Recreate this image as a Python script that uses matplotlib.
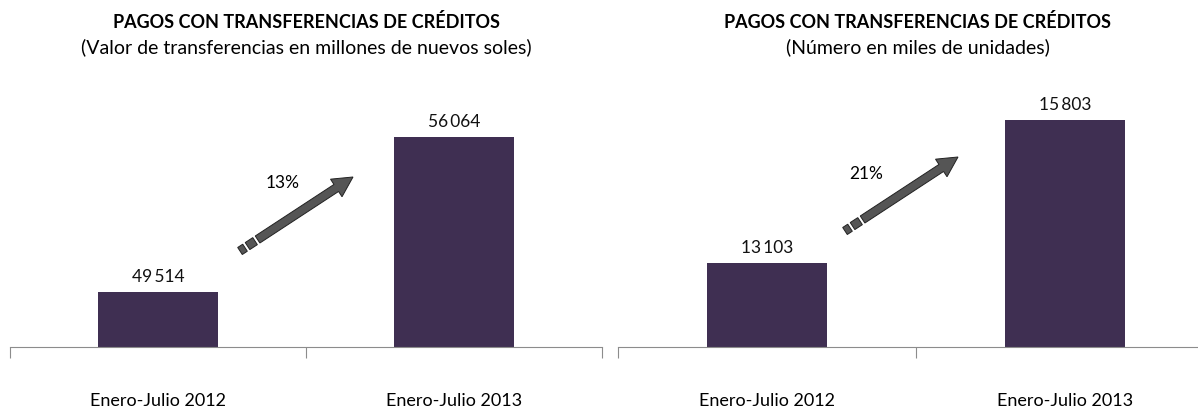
import numpy as np
import matplotlib
matplotlib.use("Agg")
import matplotlib.pyplot as plt
from matplotlib.patches import Polygon

plt.rcParams['font.family'] = ['Lato', 'DejaVu Sans']

# data
categories = ['Enero-Julio 2012', 'Enero-Julio 2013']
valor = [49514, 56064]          # millones de nuevos soles
numero = [13103, 15803]         # miles de unidades
growth = ['13%', '21%']
titles = ['PAGOS CON TRANSFERENCIAS DE CRÉDITOS', 'PAGOS CON TRANSFERENCIAS DE CRÉDITOS']
subtitles = ['(Valor de transferencias en millones de nuevos soles)',
             '(Número en miles de unidades)']
ylims = [(47190, 57630), (11517, 16180)]

W, H = 1198, 415
BAR_COLOR = '#3f2f52'

fig = plt.figure(figsize=(W / 100, H / 100), dpi=100)


def fig_box(x0, x1, y_top, y_bot):
    return [x0 / W, 1 - y_bot / H, (x1 - x0) / W, (y_bot - y_top) / H]


def px(x, y):
    return (x / W, 1 - y / H)


def draw_arrow(start, tip):
    """dashed-tail block arrow drawn in pixel space"""
    s = np.array(start, float)
    t = np.array(tip, float)
    d = t - s
    L = np.hypot(*d)
    d /= L
    n = np.array([-d[1], d[0]])
    hw, head_hw, head_len = 4.2, 10.5, 20

    def rect(a, b):
        p = [s + d * a + n * hw, s + d * b + n * hw,
             s + d * b - n * hw, s + d * a - n * hw]
        return p

    pieces = [rect(0, 6), rect(9, 18)]
    base = L - head_len
    shaft = [s + d * 21 + n * hw, s + d * base + n * hw, s + d * base + n * head_hw,
             t, s + d * base - n * head_hw, s + d * base - n * hw, s + d * 21 - n * hw]
    pieces.append(shaft)
    for pts in pieces:
        verts = [px(*p) for p in pts]
        fig.patches.append(Polygon(verts, closed=True, transform=fig.transFigure,
                                   facecolor='#555555', edgecolor='#222222', lw=0.7))


panels = [
    (valor, fig_box(10, 602, 100, 347), (240, 251), (353, 177), (283, 183)),
    (numero, fig_box(618, 1214, 100, 347), (845, 231), (958, 157), (866, 174)),
]

x = np.arange(len(categories))
for i, (vals, box, a0, a1, lab) in enumerate(panels):
    ax = fig.add_axes(box)
    ax.bar(x, vals, width=0.405, color=BAR_COLOR)
    ax.set_xlim(-0.5, 1.5)
    ax.set_ylim(*ylims[i])
    for xi, v in zip(x, vals):
        ax.annotate(f'{v:,}'.replace(',', '\u2009'), (xi, v), xytext=(0, 5),
                    textcoords='offset points', ha='center', va='bottom',
                    fontsize=12.5, color='#111111')
    for s in ['top', 'right', 'left']:
        ax.spines[s].set_visible(False)
    ax.spines['bottom'].set_color('#8c8c8c')
    ax.spines['bottom'].set_linewidth(0.8)
    ax.set_yticks([])
    ax.set_xticks(x)
    ax.set_xticklabels(categories, fontsize=13)
    ax.tick_params(axis='x', which='major', length=0, pad=33)
    ax.set_xticks([-0.5, 0.5, 1.5], minor=True)
    ax.tick_params(axis='x', which='minor', length=8, color='#8c8c8c', width=0.8)

    cx = box[0] + box[2] / 2
    if i == 1:
        cx = 918 / W
    fig.text(cx, 1 - 22 / H, titles[i], ha='center', va='center',
             fontsize=13, fontweight='bold')
    fig.text(cx, 1 - 47 / H, subtitles[i], ha='center', va='center', fontsize=14)

    draw_arrow(a0, a1)
    fig.text(*px(*lab), growth[i], ha='center', va='center', fontsize=12.5)

fig.savefig('out.png', dpi=100)
